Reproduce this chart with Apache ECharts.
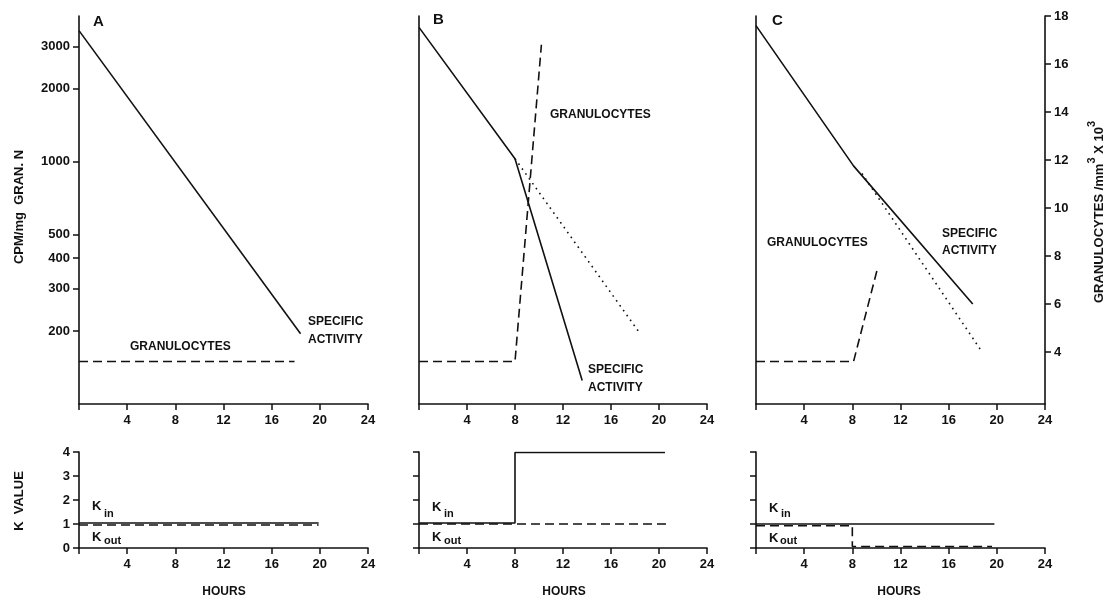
<!DOCTYPE html>
<html><head><meta charset="utf-8">
<script src="https://cdn.jsdelivr.net/npm/echarts@6/dist/echarts.min.js"></script>
<style>html,body{margin:0;padding:0;background:#fff}#c{width:1109px;height:604px}</style>
</head><body><div id="c"></div>
<script>
// ---- tick labels ----
const hourTicks = [0, 4, 8, 12, 16, 20, 24];
const hourLabels = [4, 8, 12, 16, 20, 24];
const cpmTicks = [200, 300, 400, 500, 1000, 2000, 3000];
const granTicks = [4, 6, 8, 10, 12, 14, 16, 18];
const kTicks = [0, 1, 2, 3, 4];

// ---- Panel A ----
const aSpecific = [[0, 3480], [18.4, 195]];
const aGran = [[0, 3.6], [17.9, 3.6]];
const aKin = [[0, 1.04], [19.9, 1.04]];
const aKout = [[0, 0.96], [19.9, 0.96]];
// ---- Panel B ----
const bSpecific = [[0, 3590], [8, 1030], [13.6, 125]];
const bExtrap = [[8, 1030], [18.4, 196]];
const bGran = [[0, 3.6], [8, 3.6], [10.2, 16.8]];
const bKin = [[0, 1.04], [8, 1.04], [8, 3.98], [20.5, 3.98]];
const bKout = [[0, 1], [20.6, 1]];
// ---- Panel C ----
const cSpecific = [[0, 3650], [8.1, 962], [18, 259]];
const cExtrap = [[8.8, 895], [18.7, 166]];
const cGran = [[0, 3.6], [8.1, 3.6], [10.1, 7.5]];
const cKin = [[0, 1], [19.8, 1]];
const cKout = [[0, 0.93], [8, 0.93], [8, 0.06], [19.6, 0.06]];

const FONT = "'Liberation Sans', Arial, sans-serif";
const BLACK = '#111';
const chart = echarts.init(document.getElementById('c'), null, {renderer: 'canvas'});

const lefts = [79, 419, 756];
const widths = [289, 288, 289];
const grids = [];
for (let i = 0; i < 3; i++) grids.push({left: lefts[i], top: 16, width: widths[i], height: 388, containLabel: false, outerBoundsMode: 'none'});
for (let i = 0; i < 3; i++) grids.push({left: lefts[i], top: 452, width: widths[i], height: 96, containLabel: false, outerBoundsMode: 'none'});

const axLine = {show: true, onZero: false, lineStyle: {color: BLACK, width: 1.6}};
const lbl = {color: BLACK, fontSize: 13, fontWeight: 'bold', fontFamily: FONT};
const plain = function (v) { return String(v); };
function xAx(g) {
  return {type: 'value', gridIndex: g, min: 0, max: 24,
    axisLine: axLine,
    axisTick: {show: true, length: 6, customValues: hourTicks, lineStyle: {color: BLACK, width: 1.5}},
    axisLabel: Object.assign({show: true, customValues: hourLabels, margin: 10, formatter: plain}, lbl),
    splitLine: {show: false}};
}
const xAxes = [0, 1, 2, 3, 4, 5].map(xAx);

function logAx(g, showLabels) {
  return {type: 'log', logBase: 10, gridIndex: g, min: 100, max: 4000,
    axisLine: axLine,
    axisTick: {show: showLabels, length: 6, customValues: cpmTicks, lineStyle: {color: BLACK, width: 1.5}},
    axisLabel: Object.assign({show: showLabels, customValues: cpmTicks, margin: 9, formatter: plain}, lbl),
    splitLine: {show: false}};
}
function granAx(g, show) {
  return {type: 'value', gridIndex: g, min: 1.83, max: 18, position: 'right',
    axisLine: {show: show, onZero: false, lineStyle: {color: BLACK, width: 1.6}},
    axisTick: {show: show, length: 6, customValues: granTicks, lineStyle: {color: BLACK, width: 1.5}},
    axisLabel: Object.assign({show: show, customValues: granTicks, margin: 9, formatter: plain}, lbl),
    splitLine: {show: false}};
}
function kAx(g, showLabels) {
  return {type: 'value', gridIndex: g, min: 0, max: 4,
    axisLine: axLine,
    axisTick: {show: true, length: 6, customValues: kTicks, lineStyle: {color: BLACK, width: 1.5}},
    axisLabel: Object.assign({show: showLabels, customValues: kTicks, margin: 9, formatter: plain}, lbl),
    splitLine: {show: false}};
}
const yAxes = [
  logAx(0, true), granAx(0, false),
  logAx(1, false), granAx(1, false),
  logAx(2, false), granAx(2, true),
  kAx(3, true), kAx(4, false), kAx(5, false)
];

const DASH = [9, 5];
const DOT = [1.6, 4.4];
function ln(data, xi, yi, type) {
  return {type: 'line', xAxisIndex: xi, yAxisIndex: yi, data: data, symbol: 'none', showSymbol: false,
    silent: true, animation: false, lineStyle: {color: BLACK, width: 1.6, type: type}};
}
const series = [
  ln(aSpecific, 0, 0, 'solid'), ln(aGran, 0, 1, DASH),
  ln(bSpecific, 1, 2, 'solid'), ln(bExtrap, 1, 2, DOT), ln(bGran, 1, 3, DASH),
  ln(cSpecific, 2, 4, 'solid'), ln(cExtrap, 2, 4, DOT), ln(cGran, 2, 5, DASH),
  ln(aKin, 3, 6, 'solid'), ln(aKout, 3, 6, DASH),
  ln(bKin, 4, 7, 'solid'), ln(bKout, 4, 7, DASH),
  ln(cKin, 5, 8, 'solid'), ln(cKout, 5, 8, DASH)
];

function txt(text, x, y, opts) {
  opts = opts || {};
  return {type: 'text', x: x, y: y, rotation: opts.rot || 0, silent: true,
    style: {text: text, fill: BLACK, fontFamily: FONT, fontSize: opts.size || 12,
      fontWeight: opts.weight || 'bold', textAlign: opts.align || 'left', textVerticalAlign: 'middle',
      rich: opts.rich}};
}
const graphics = [
  txt('A', 93, 22, {size: 15}),
  txt('B', 433, 20, {size: 15}),
  txt('C', 772, 21, {size: 15}),
  txt('GRANULOCYTES', 130, 347),
  txt('SPECIFIC', 308, 322), txt('ACTIVITY', 308, 340),
  txt('GRANULOCYTES', 550, 115),
  txt('SPECIFIC', 588, 370), txt('ACTIVITY', 588, 388),
  txt('GRANULOCYTES', 767, 243),
  txt('SPECIFIC', 942, 234), txt('ACTIVITY', 942, 251),
  txt('CPM/mg  GRAN. N', 19, 207, {rot: Math.PI / 2, align: 'center', size: 13}),
  txt('K  VALUE', 19, 501, {rot: Math.PI / 2, align: 'center', size: 13}),
  txt('{t|GRANULOCYTES /mm}{s|3}{t| X 10}{s|3}', 1096, 212, {rot: Math.PI / 2, align: 'center',
    rich: {t: {fontSize: 13, fontWeight: 'bold', fontFamily: FONT, fill: BLACK, verticalAlign: 'bottom', lineHeight: 19},
           s: {fontSize: 11, fontWeight: 'bold', fontFamily: FONT, fill: BLACK, verticalAlign: 'top', lineHeight: 19}}}),
  txt('HOURS', 224, 592, {align: 'center'}),
  txt('HOURS', 564, 592, {align: 'center'}),
  txt('HOURS', 899, 592, {align: 'center'}),
  // K labels
  txt('K', 92, 506, {size: 13}), txt('in', 104, 514, {size: 11}),
  txt('K', 92, 537, {size: 13}), txt('out', 104, 541, {size: 11}),
  txt('K', 432, 507, {size: 13}), txt('in', 444, 514, {size: 11}),
  txt('K', 432, 537, {size: 13}), txt('out', 444, 541, {size: 11}),
  txt('K', 769, 508, {size: 13}), txt('in', 781, 514, {size: 11}),
  txt('K', 769, 538, {size: 13}), txt('out', 780, 541, {size: 11})
];

chart.setOption({
  animation: false,
  backgroundColor: '#fff',
  grid: grids,
  xAxis: xAxes,
  yAxis: yAxes,
  series: series,
  graphic: graphics
});
</script>
</body></html>
